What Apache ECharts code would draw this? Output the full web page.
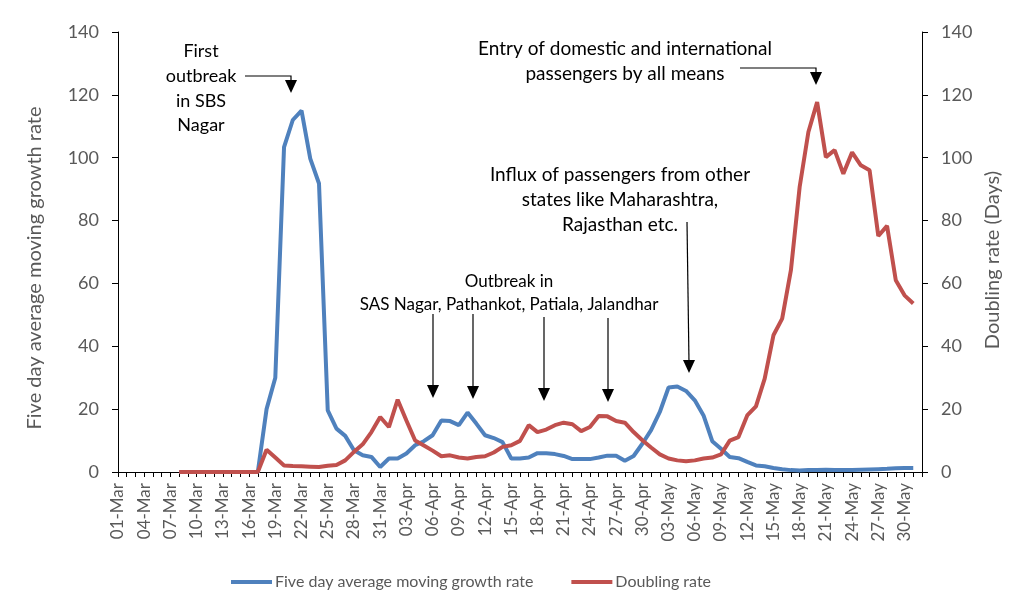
<!DOCTYPE html>
<html>
<head>
<meta charset="utf-8">
<script src="https://cdn.jsdelivr.net/npm/echarts@6/dist/echarts.min.js"></script>
<style>
	html, body { margin: 0; padding: 0; background: #fff; }
	#chart { width: 1016px; height: 608px; }
</style>
</head>
<body>
<div id="chart"></div>
<script>
// 01-Mar .. 01-Jun, one point per day
let months = [["Mar", 31], ["Apr", 30], ["May", 31], ["Jun", 1]];
let dates = [];
months.forEach((m) => {
	for (let d = 1; d <= m[1]; d++) {
		dates.push((d < 10 ? "0" + d : "" + d) + "-" + m[0]);
	}
});

let yTicks = [0, 20, 40, 60, 80, 100, 120, 140];

// five day average moving growth rate (left axis)
let growthRate = [
	null, null, null, null, null, null, null,
	0, 0, 0, 0, 0, 0, 0, 0, 0,
	0, 20, 30, 103.4, 112, 115, 99.7, 91.8, 19.6,
	13.8, 11.5, 6.9, 5.3, 4.8, 1.6, 4.3, 4.3, 5.9, 8.5,
	9.8, 11.7, 16.4, 16.2, 14.9, 18.9, 15.4, 11.7, 10.8, 9.5,
	4.3, 4.3, 4.6, 6.0, 6.0, 5.7, 5.1, 4.1, 4.1, 4.1,
	4.6, 5.2, 5.2, 3.6, 5.1, 9.0, 13.3, 19.1, 26.9, 27.2,
	25.8, 22.8, 18.0, 9.8, 7.4, 4.8, 4.4, 3.2, 2.1, 1.8,
	1.3, 0.9, 0.6, 0.5, 0.6, 0.6, 0.7, 0.6, 0.6, 0.6,
	0.7, 0.8, 0.9, 1.0, 1.2, 1.3, 1.3,
	null,
];

// doubling rate in days (right axis)
let doublingRate = [
	null, null, null, null, null, null, null,
	0, 0, 0, 0, 0, 0, 0, 0, 0,
	0, 7.1, 4.6, 2.1, 1.9, 1.8, 1.7, 1.6, 2.0,
	2.2, 3.7, 6.4, 8.8, 12.7, 17.5, 14.3, 23.0, 16.4, 10.0,
	8.4, 6.8, 5.0, 5.3, 4.6, 4.3, 4.8, 5.0, 6.2, 8.0,
	8.5, 9.9, 14.9, 12.7, 13.5, 14.9, 15.7, 15.2, 13.0, 14.3,
	17.8, 17.7, 16.2, 15.7, 12.7, 10.1, 7.8, 5.6, 4.3, 3.7,
	3.4, 3.7, 4.3, 4.6, 5.6, 10.0, 11.1, 18.0, 20.9, 29.7,
	43.5, 48.8, 64.2, 90.7, 108.2, 117.7, 100.2, 102.4, 94.9, 101.7,
	97.6, 96.0, 75.1, 78.3, 61.0, 56.2, 53.6,
	null,
];

let seriesNames = ["Five day average moving growth rate", "Doubling rate"];

let font = "Lato, 'Liberation Sans', sans-serif";
let grey = "#595959";

let myChart = echarts.init(document.getElementById("chart"));

let yAxisBase = function (pos) {
	return {
		type: "value",
		position: pos,
		min: yTicks[0],
		max: yTicks[yTicks.length - 1],
		interval: yTicks[1] - yTicks[0],
		splitLine: { show: false },
		axisLine: { show: true, lineStyle: { color: "#000", width: 1 } },
		axisTick: { show: true, length: 6, lineStyle: { color: "#000" } },
		axisLabel: { color: grey, fontSize: 18, fontFamily: font, margin: 19 },
	};
};

// arrow = shaft polyline + filled head
let arrow = function (points) {
	let tip = points[points.length - 1];
	let shaft = points.slice(0, -1).concat([[tip[0], tip[1] - 10]]);
	return [
		{
			type: "polyline",
			shape: { points: shaft },
			style: { stroke: "#000", lineWidth: 1.2, fill: null },
			z: 100,
		},
		{
			type: "polygon",
			shape: { points: [[tip[0] - 6, tip[1] - 13], [tip[0] + 6, tip[1] - 13], tip] },
			style: { fill: "#000" },
			z: 100,
		},
	];
};

let label = function (x, y, text, size, lh) {
	return {
		type: "text",
		x: x,
		y: y,
		style: {
			text: text,
			fill: "#000",
			font: size + "px " + font,
			align: "center",
			verticalAlign: "top",
			lineHeight: lh,
		},
		z: 100,
	};
};

let axisTitle = function (x, y, text) {
	return {
		type: "text",
		x: x,
		y: y,
		rotation: Math.PI / 2,
		style: {
			text: text,
			fill: grey,
			font: "20px " + font,
			align: "center",
			verticalAlign: "middle",
		},
	};
};

let graphics = [
	label(201, 39, "First\noutbreak\nin SBS\nNagar", 18, 24.7),
	label(625, 37, "Entry of domestic and international\npassengers by all means", 19, 24.5),
	label(620, 162, "Influx of passengers from other\nstates like Maharashtra,\nRajasthan etc.", 19, 25),
	label(509, 270, "Outbreak in\nSAS Nagar, Pathankot, Patiala, Jalandhar", 17, 23),
	axisTitle(35, 268, "Five day average moving growth rate"),
	axisTitle(993, 260, "Doubling rate (Days)"),
]
	.concat(arrow([[245, 76], [291, 76], [291, 93]]))
	.concat(arrow([[740, 68], [816, 68], [816, 85]]))
	.concat(arrow([[687, 222], [689, 373]]))
	.concat(arrow([[433, 314], [433, 398]]))
	.concat(arrow([[473, 314], [473, 399]]))
	.concat(arrow([[544, 317], [544, 401]]))
	.concat(arrow([[608, 318], [608, 402]]));

let option = {
	animation: false,
	color: ["#4F81BD", "#C0504D"],
	textStyle: { fontFamily: font },
	grid: {
		left: 118,
		right: 94,
		top: 32,
		bottom: 136,
	},
	legend: {
		left: 226,
		top: 569,
		icon: "rect",
		itemWidth: 41,
		itemHeight: 4,
		itemGap: 38,
		textStyle: { color: grey, fontSize: 16, fontFamily: font, padding: [0, 0, 0, -2] },
		data: seriesNames,
	},
	xAxis: [
		{
			type: "category",
			boundaryGap: false,
			data: dates,
			axisLine: { lineStyle: { color: "#000", width: 1 } },
			axisTick: { show: true, interval: 0, length: 5, lineStyle: { color: "#000" } },
			axisLabel: {
				interval: 2,
				rotate: 90,
				color: grey,
				fontSize: 17,
				fontFamily: font,
				margin: 11,
			},
		},
	],
	yAxis: [yAxisBase("left"), yAxisBase("right")],
	series: [
		{
			name: seriesNames[0],
			type: "line",
			yAxisIndex: 0,
			data: growthRate,
			showSymbol: false,
			lineStyle: { width: 4 },
			z: 2,
		},
		{
			name: seriesNames[1],
			type: "line",
			yAxisIndex: 1,
			data: doublingRate,
			showSymbol: false,
			lineStyle: { width: 4 },
			z: 3,
		},
	],
	graphic: graphics,
};

myChart.setOption(option);
</script>
</body>
</html>
